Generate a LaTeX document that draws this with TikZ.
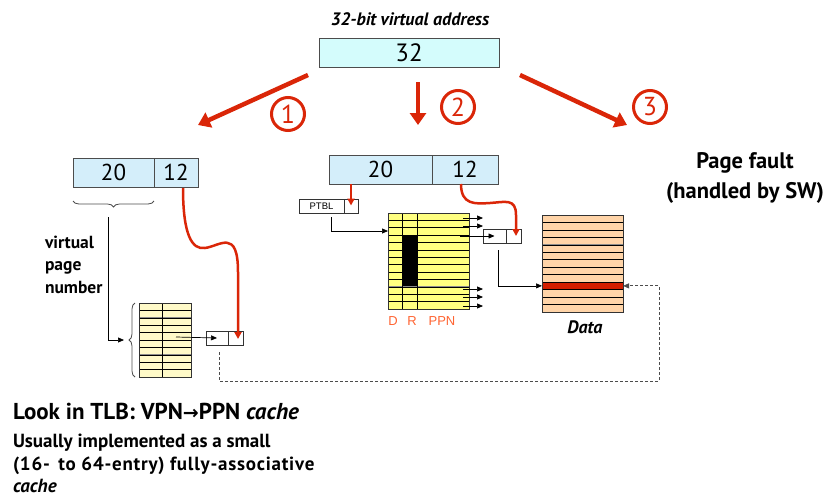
\documentclass[tikz,border=0pt]{standalone}
\usepackage{fontspec}
\setmainfont{PT Sans}
\newfontfamily\symfont{DejaVu Sans}
\newfontfamily\arialfont{Liberation Sans}
\usetikzlibrary{arrows.meta,decorations.pathreplacing,calc}
\definecolor{vared}{RGB}{218,38,8}
\definecolor{addrblue}{RGB}{212,238,250}
\definecolor{topcyan}{RGB}{212,252,252}
\definecolor{tlbyellow}{RGB}{255,250,200}
\definecolor{ptyellow}{RGB}{255,255,128}
\definecolor{datapeach}{RGB}{255,212,168}
\definecolor{datared}{RGB}{210,30,0}
\definecolor{lblorange}{RGB}{255,100,50}
\newcommand{\fs}[1]{\fontsize{#1}{#1}\selectfont}
\begin{document}
\begin{tikzpicture}[x=1pt,y=-1pt,
  every node/.style={inner sep=0pt, outer sep=0pt},
  field/.style={draw=black!70, line width=0.8pt, fill=addrblue, minimum height=29pt, font=\fs{23}, anchor=north west},
  cell/.style={draw=black!80, line width=0.7pt, fill=white, minimum height=14pt, anchor=north west},
  table/.style={draw=black!80, line width=0.8pt, anchor=north west},
  rowline/.style={black, line width=0.6pt},
  rowshade/.style={black!45, line width=0.8pt, yshift=1.3pt},
  bigarrow/.style={vared, line width=4.5pt, -{Triangle[length=12pt,width=16pt]}},
  stepnum/.style={circle, draw=vared, line width=3pt, minimum size=33pt, text=vared, font=\fs{26}},
  offsetcurve/.style={vared, line width=2.5pt, -{Triangle[length=7pt,width=7pt]}},
  ptr/.style={black, line width=0.7pt, -{Triangle[length=6pt,width=5pt]}},
  faultline/.style={black!70, line width=0.8pt, dash pattern=on 3pt off 2pt, -{Triangle[length=6pt,width=5pt]}},
  bracedec/.style={black!70, line width=0.8pt, decorate, decoration={brace, amplitude=6pt}},
  lbl/.style={font=\fs{17.5}\bfseries, anchor=base west},
  collbl/.style={font=\arialfont\fs{13}, text=lblorange, anchor=base},
]
\useasboundingbox (0,0) rectangle (827,501);

% 32-bit virtual address
\node[font=\fs{18}\bfseries\itshape, anchor=base] (vatitle) at (410,25) {32-bit virtual address};
\node[draw=black!70, line width=0.8pt, fill=topcyan, minimum width=180pt, minimum height=29pt, font=\fs{25}] (va) at (409,52.5) {32};

% three ways to translate
\coordinate (a1end) at (198,125);
\coordinate (a2end) at (418,125);
\coordinate (a3end) at (627,125);
\draw[bigarrow] ($(va.south west)+(-11,8)$) -- (a1end);
\draw[bigarrow] ($(va.south)+(9,15)$) -- (a2end);
\draw[bigarrow] ($(va.south east)+(21,8)$) -- (a3end);
\node[stepnum] (s1) at (288,114) {1};
\node[stepnum] (s2) at (458,107) {2};
\node[stepnum] (s3) at (650,107) {3};

% ---- 1: TLB lookup ----
\node[field, minimum width=81pt] (l20) at (73,158) {20};
\node[field, minimum width=44pt] (l12) at (154,158) {12};
\draw[bracedec] ($(l20.south east)+(0,14)$) -- ($(l20.south west)+(0,14)$);
\node[lbl] (vpn1) at (45,248) {virtual};
\node[lbl] (vpn2) at (45,270) {page};
\node[lbl] (vpn3) at (45,293) {number};

\node[table, fill=tlbyellow, minimum width=52pt, minimum height=74pt] (tlb) at (139,303) {};
\foreach \i in {1,...,9}{
  \draw[rowshade] ($(tlb.north west)!\i/10!(tlb.south west)$) -- ($(tlb.north east)!\i/10!(tlb.south east)$);
  \draw[rowline] ($(tlb.north west)!\i/10!(tlb.south west)$) -- ($(tlb.north east)!\i/10!(tlb.south east)$);
}
\draw[rowline] ($(tlb.north west)+(23,0)$) -- ($(tlb.south west)+(23,0)$);
\node[table, minimum width=52pt, minimum height=74pt] at (139,303) {};
\draw[bracedec] ($(tlb.south west)+(-4,0)$) -- ($(tlb.north west)+(-4,0)$);
\coordinate (vpnstart) at ($(l20.south west)+(35,30)$);
\draw[ptr] (vpnstart) |- ($(tlb.west)+(-15,0)$);

\node[cell, minimum width=22pt] (ltlbL) at (206,331) {};
\node[cell, minimum width=15pt] (ltlbR) at (228,331) {};
\draw[ptr] ($(tlb.center)+(11,-3)$) -- (ltlbL.center);
\draw[offsetcurve] ($(l12.south)+(7,1)$) .. controls (183,235) and (192,250) .. (205,248)
  .. controls (220,246) and (238,228) .. (238,272) -- ($(ltlbR.center)+(2.5,1)$);

% ---- 2: page table walk ----
\node[field, minimum width=103pt] (m20) at (329,155) {20};
\node[field, minimum width=66pt] (m12) at (432,155) {12};
\node[cell, minimum width=45pt, font=\arialfont\fs{9.5}] (ptblL) at (299,199) {PTBL};
\node[cell, minimum width=14pt] (ptblR) at (344,199) {};
\draw[offsetcurve] (m20.south -| ptblR.center) -- ($(ptblR.center)+(0,-0.5)$);

\node[table, fill=ptyellow, minimum width=81pt, minimum height=96pt] (pt) at (388,213) {};
\fill[black] ($(pt.north west)+(14,23)$) rectangle ($(pt.north west)+(29,74)$);
\foreach \i in {1,...,12}{
  \draw[rowshade] ($(pt.north west)!\i/13!(pt.south west)$) -- ($(pt.north east)!\i/13!(pt.south east)$);
  \draw[rowline] ($(pt.north west)!\i/13!(pt.south west)$) -- ($(pt.north east)!\i/13!(pt.south east)$);
}
\draw[rowline] ($(pt.north west)+(14,0)$) -- ($(pt.south west)+(14,0)$);
\draw[rowline] ($(pt.north west)+(29,0)$) -- ($(pt.south west)+(29,0)$);
\node[table, minimum width=81pt, minimum height=96pt] at (388,213) {};
\node[collbl] (colD) at (393,325) {D};
\node[collbl] (colR) at (412,325) {R};
\node[collbl] (colP) at (442,325) {PPN};
\draw[ptr] ($(ptblL.south)+(9.5,4)$) |- ($(pt.north west)+(0,18)$);
\foreach \yy in {5,13,76,84,93}
  \draw[ptr] ($(pt.north east)+(-6,\yy)$) -- ++(20,0);

\node[cell, minimum width=23pt] (mptrL) at (483,229) {};
\node[cell, minimum width=15pt] (mptrR) at (506,229) {};
\draw[ptr] ($(pt.north east)+(-9,23)$) -- (mptrL.center);
\draw[offsetcurve] ($(m12.south)+(-4,0)$) .. controls (461,205) and (475,204) .. (490,203)
  .. controls (505,202) and (516,198) .. (516,215) -- ($(mptrR.center)+(2.5,0)$);

% data pages
\node[table, fill=datapeach, minimum width=81pt, minimum height=97pt] (dm) at (542,215) {};
\coordinate (redrow) at ($(dm.north west)!9.5/13!(dm.south west)$);
\fill[datared] ($(dm.north west)!9/13!(dm.south west)$) rectangle ($(dm.north east)!10/13!(dm.south east)$);
\foreach \i in {1,...,12}{
  \draw[rowshade] ($(dm.north west)!\i/13!(dm.south west)$) -- ($(dm.north east)!\i/13!(dm.south east)$);
  \draw[rowline] ($(dm.north west)!\i/13!(dm.south west)$) -- ($(dm.north east)!\i/13!(dm.south east)$);
}
\node[table, minimum width=81pt, minimum height=97pt] at (542,215) {};
\node[font=\fs{18}\bfseries\itshape, anchor=base] (dlbl) at (585,333) {Data};
\draw[ptr] ($(mptrL.south)+(3.5,7)$) |- (dm.west |- redrow);

% ---- 3: page fault ----
\node[font=\fs{22.5}\bfseries, anchor=base] (pf1) at (745,168) {Page fault};
\node[font=\fs{22.5}\bfseries, anchor=base] (pf2) at (745,198) {(handled by SW)};
\coordinate (dcorner) at (659,381);
\draw[faultline] ($(ltlbL.south)+(2,7)$) |- (dcorner) |- (dm.east |- redrow);

% notes
\node[font=\fs{23}\bfseries, anchor=base west] (n1) at (13,419) {Look in TLB: VPN{\symfont\fs{19}→}PPN \textit{cache}};
\node[font=\fs{19}\bfseries, anchor=base west] (n2) at (13,447) {Usually implemented as a small};
\node[font=\fs{19}\bfseries\addfontfeature{LetterSpace=4}, anchor=base west] (n3) at (13,470) {(16-\hspace{3pt} to 64-entry) fully-associative};
\node[font=\fs{19}\bfseries\itshape, anchor=base west] (n4) at (13,492) {cache};
\end{tikzpicture}
\end{document}
